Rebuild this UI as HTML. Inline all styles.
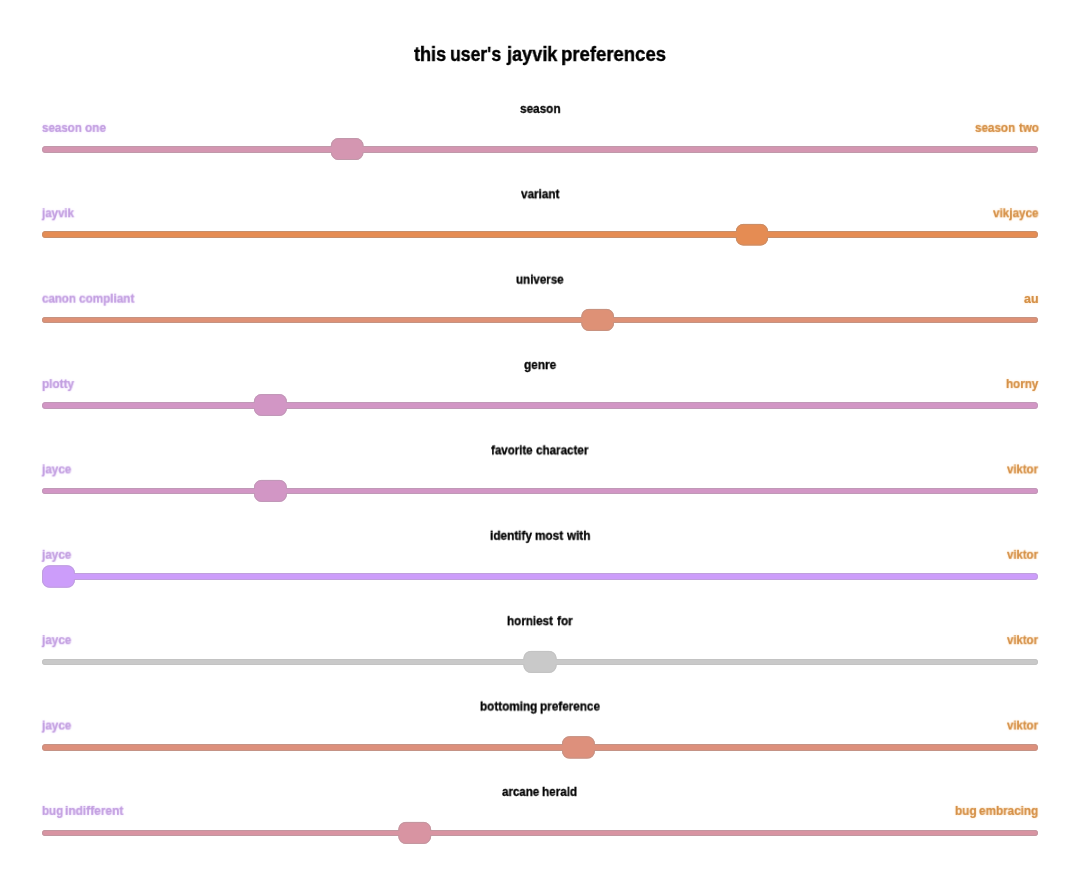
<!DOCTYPE html>
<html><head><meta charset="utf-8"><title>jayvik preferences</title>
<style>
html,body{margin:0;padding:0;background:#fff;}
body{width:1080px;height:889px;position:relative;overflow:hidden;font-family:"Liberation Sans",sans-serif;font-weight:bold;color:#000;}
svg{position:absolute;left:0;top:0;}
span{position:absolute;display:block;white-space:nowrap;left:0;top:0;transform-origin:0 50%;}
.w{will-change:transform;}
.h1{font-size:20.5px;line-height:22px;-webkit-text-stroke:0.4px #000;}
.t{font-size:12.4px;line-height:14px;-webkit-text-stroke:0.3px #000;}
.l{font-size:12.4px;line-height:14px;color:#c3a0e0;-webkit-text-stroke:0.2px #c3a0e0;text-shadow:0 0 2px rgba(214,170,255,0.55);}
.r{font-size:12.4px;line-height:14px;color:#d49048;-webkit-text-stroke:0.2px #d49048;text-shadow:0 0 2px rgba(255,180,90,0.55);}
</style></head><body>

<svg width="1080" height="889" viewBox="0 0 1080 889">
<rect x="42" y="146" width="996" height="7" rx="3.5" fill="#d496b1"/>
<rect x="42.5" y="146.5" width="995" height="6" rx="3.0" fill="none" stroke="#c099aa" stroke-width="1"/>
<rect x="330.90" y="138.10" width="32.60" height="21.90" rx="7.5" fill="#d496b1"/>
<rect x="331.40" y="138.60" width="31.60" height="20.90" rx="7" fill="none" stroke="#c099aa" stroke-width="1"/>
<rect x="329.90" y="147" width="34.60" height="5" fill="#d496b1"/>
<rect x="42" y="231" width="996" height="7" rx="3.5" fill="#e58c53"/>
<rect x="42.5" y="231.5" width="995" height="6" rx="3.0" fill="none" stroke="#c78e6a" stroke-width="1"/>
<rect x="735.80" y="223.90" width="32.30" height="21.60" rx="7.5" fill="#e58c53"/>
<rect x="736.30" y="224.40" width="31.30" height="20.60" rx="7" fill="none" stroke="#c78e6a" stroke-width="1"/>
<rect x="734.80" y="232" width="34.30" height="5" fill="#e58c53"/>
<rect x="42" y="317" width="996" height="6" rx="3.0" fill="#de9176"/>
<rect x="42.5" y="317.5" width="995" height="5" rx="2.5" fill="none" stroke="#c59382" stroke-width="1"/>
<rect x="581.30" y="308.90" width="32.70" height="22.00" rx="7.5" fill="#de9176"/>
<rect x="581.80" y="309.40" width="31.70" height="21.00" rx="7" fill="none" stroke="#c59382" stroke-width="1"/>
<rect x="580.30" y="318" width="34.70" height="4" fill="#de9176"/>
<rect x="42" y="402" width="996" height="7" rx="3.5" fill="#d296c5"/>
<rect x="42.5" y="402.5" width="995" height="6" rx="3.0" fill="none" stroke="#c099b7" stroke-width="1"/>
<rect x="253.90" y="394.10" width="33.00" height="21.80" rx="7.5" fill="#d296c5"/>
<rect x="254.40" y="394.60" width="32.00" height="20.80" rx="7" fill="none" stroke="#c099b7" stroke-width="1"/>
<rect x="252.90" y="403" width="35.00" height="5" fill="#d296c5"/>
<rect x="42" y="488" width="996" height="6" rx="3.0" fill="#d296c5"/>
<rect x="42.5" y="488.5" width="995" height="5" rx="2.5" fill="none" stroke="#c099b7" stroke-width="1"/>
<rect x="254.00" y="479.90" width="32.90" height="22.00" rx="7.5" fill="#d296c5"/>
<rect x="254.50" y="480.40" width="31.90" height="21.00" rx="7" fill="none" stroke="#c099b7" stroke-width="1"/>
<rect x="253.00" y="489" width="34.90" height="4" fill="#d296c5"/>
<rect x="42" y="573" width="996" height="7" rx="3.5" fill="#cc9dfa"/>
<rect x="42.5" y="573.5" width="995" height="6" rx="3.0" fill="none" stroke="#bfa0dc" stroke-width="1"/>
<rect x="42.00" y="565.30" width="32.90" height="22.40" rx="7.5" fill="#cc9dfa"/>
<rect x="42.50" y="565.80" width="31.90" height="21.40" rx="7" fill="none" stroke="#bfa0dc" stroke-width="1"/>
<rect x="45.50" y="574" width="30.40" height="5" fill="#cc9dfa"/>
<rect x="42" y="659" width="996" height="6" rx="3.0" fill="#c9c9c9"/>
<rect x="42.5" y="659.5" width="995" height="5" rx="2.5" fill="none" stroke="#c3c3c3" stroke-width="1"/>
<rect x="523.40" y="650.90" width="33.20" height="22.00" rx="7.5" fill="#c9c9c9"/>
<rect x="523.90" y="651.40" width="32.20" height="21.00" rx="7" fill="none" stroke="#c3c3c3" stroke-width="1"/>
<rect x="522.40" y="660" width="35.20" height="4" fill="#c9c9c9"/>
<rect x="42" y="744" width="996" height="7" rx="3.5" fill="#dd907c"/>
<rect x="42.5" y="744.5" width="995" height="6" rx="3.0" fill="none" stroke="#c49386" stroke-width="1"/>
<rect x="562.00" y="736.20" width="32.90" height="22.40" rx="7.5" fill="#dd907c"/>
<rect x="562.50" y="736.70" width="31.90" height="21.40" rx="7" fill="none" stroke="#c49386" stroke-width="1"/>
<rect x="561.00" y="745" width="34.90" height="5" fill="#dd907c"/>
<rect x="42" y="830" width="996" height="6" rx="3.0" fill="#d894a2"/>
<rect x="42.5" y="830.5" width="995" height="5" rx="2.5" fill="none" stroke="#c297a0" stroke-width="1"/>
<rect x="398.30" y="821.90" width="32.80" height="22.00" rx="7.5" fill="#d894a2"/>
<rect x="398.80" y="822.40" width="31.80" height="21.00" rx="7" fill="none" stroke="#c297a0" stroke-width="1"/>
<rect x="397.30" y="831" width="34.80" height="4" fill="#d894a2"/>
</svg>
<span class="w" style="left:414.22px;top:43px;transform:translate(0px,0.00px)"><span class="h1" style="transform:scaleX(0.8823)">this</span></span>
<span class="w" style="left:450.19px;top:43px;transform:translate(0px,0.00px)"><span class="h1" style="transform:scaleX(0.8582)">user's</span></span>
<span class="w" style="left:506.52px;top:43px;transform:translate(0px,0.00px)"><span class="h1" style="transform:scaleX(0.8840)">jayvik</span></span>
<span class="w" style="left:561.30px;top:43px;transform:translate(0px,0.00px)"><span class="h1" style="transform:scaleX(0.9037)">preferences</span></span>
<span class="w" style="left:519.89px;top:101px;transform:translate(0px,0.90px)"><span class="t" style="transform:scaleX(0.9485)">season</span></span>
<span class="w" style="left:41.90px;top:120px;transform:translate(0px,0.90px)"><span class="l" style="transform:scaleX(0.9316)">season</span></span>
<span class="w" style="left:84.53px;top:120px;transform:translate(0px,0.90px)"><span class="l" style="transform:scaleX(0.9507)">one</span></span>
<span class="w" style="left:974.89px;top:120px;transform:translate(0px,0.90px)"><span class="r" style="transform:scaleX(0.9389)">season</span></span>
<span class="w" style="left:1018.58px;top:120px;transform:translate(0px,0.90px)"><span class="r" style="transform:scaleX(0.9292)">two</span></span>
<span class="w" style="left:520.84px;top:187px;transform:translate(0px,0.28px)"><span class="t" style="transform:scaleX(0.9450)">variant</span></span>
<span class="w" style="left:41.77px;top:206px;transform:translate(0px,0.28px)"><span class="l" style="transform:scaleX(0.9291)">jayvik</span></span>
<span class="w" style="left:992.94px;top:206px;transform:translate(0px,0.28px)"><span class="r" style="transform:scaleX(0.9435)">vikjayce</span></span>
<span class="w" style="left:516.00px;top:272px;transform:translate(0px,0.65px)"><span class="t" style="transform:scaleX(0.9348)">universe</span></span>
<span class="w" style="left:41.74px;top:291px;transform:translate(0px,0.65px)"><span class="l" style="transform:scaleX(0.9269)">canon</span></span>
<span class="w" style="left:78.63px;top:291px;transform:translate(0px,0.65px)"><span class="l" style="transform:scaleX(0.9446)">compliant</span></span>
<span class="w" style="left:1024.33px;top:291px;transform:translate(0px,0.65px)"><span class="r" style="transform:scaleX(1.0024)">au</span></span>
<span class="w" style="left:523.93px;top:358px;transform:translate(0px,0.02px)"><span class="t" style="transform:scaleX(0.9556)">genre</span></span>
<span class="w" style="left:41.63px;top:377px;transform:translate(0px,0.02px)"><span class="l" style="transform:scaleX(0.9495)">plotty</span></span>
<span class="w" style="left:1005.89px;top:377px;transform:translate(0px,0.02px)"><span class="r" style="transform:scaleX(0.9379)">horny</span></span>
<span class="w" style="left:490.93px;top:443px;transform:translate(0px,0.40px)"><span class="t" style="transform:scaleX(0.9297)">favorite</span></span>
<span class="w" style="left:536.43px;top:443px;transform:translate(0px,0.40px)"><span class="t" style="transform:scaleX(0.9387)">character</span></span>
<span class="w" style="left:41.78px;top:462px;transform:translate(0px,0.40px)"><span class="l" style="transform:scaleX(0.9476)">jayce</span></span>
<span class="w" style="left:1006.94px;top:462px;transform:translate(0px,0.40px)"><span class="r" style="transform:scaleX(0.9183)">viktor</span></span>
<span class="w" style="left:489.77px;top:528px;transform:translate(0px,0.77px)"><span class="t" style="transform:scaleX(0.9524)">identify</span></span>
<span class="w" style="left:534.83px;top:528px;transform:translate(0px,0.77px)"><span class="t" style="transform:scaleX(0.9496)">most</span></span>
<span class="w" style="left:566.70px;top:528px;transform:translate(0px,0.77px)"><span class="t" style="transform:scaleX(0.9436)">with</span></span>
<span class="w" style="left:41.78px;top:547px;transform:translate(0px,0.77px)"><span class="l" style="transform:scaleX(0.9476)">jayce</span></span>
<span class="w" style="left:1006.94px;top:547px;transform:translate(0px,0.77px)"><span class="r" style="transform:scaleX(0.9183)">viktor</span></span>
<span class="w" style="left:506.98px;top:614px;transform:translate(0px,0.15px)"><span class="t" style="transform:scaleX(0.9402)">horniest</span></span>
<span class="w" style="left:556.52px;top:614px;transform:translate(0px,0.15px)"><span class="t" style="transform:scaleX(0.9455)">for</span></span>
<span class="w" style="left:41.78px;top:633px;transform:translate(0px,0.15px)"><span class="l" style="transform:scaleX(0.9476)">jayce</span></span>
<span class="w" style="left:1006.94px;top:633px;transform:translate(0px,0.15px)"><span class="r" style="transform:scaleX(0.9183)">viktor</span></span>
<span class="w" style="left:479.64px;top:699px;transform:translate(0px,0.52px)"><span class="t" style="transform:scaleX(0.9447)">bottoming</span></span>
<span class="w" style="left:539.94px;top:699px;transform:translate(0px,0.52px)"><span class="t" style="transform:scaleX(0.9472)">preference</span></span>
<span class="w" style="left:41.78px;top:718px;transform:translate(0px,0.52px)"><span class="l" style="transform:scaleX(0.9476)">jayce</span></span>
<span class="w" style="left:1006.94px;top:718px;transform:translate(0px,0.52px)"><span class="r" style="transform:scaleX(0.9183)">viktor</span></span>
<span class="w" style="left:502.25px;top:784px;transform:translate(0px,0.90px)"><span class="t" style="transform:scaleX(0.9315)">arcane</span></span>
<span class="w" style="left:542.48px;top:784px;transform:translate(0px,0.90px)"><span class="t" style="transform:scaleX(0.9458)">herald</span></span>
<span class="w" style="left:41.55px;top:803px;transform:translate(0px,0.90px)"><span class="l" style="transform:scaleX(0.9298)">bug</span></span>
<span class="w" style="left:65.47px;top:803px;transform:translate(0px,0.90px)"><span class="l" style="transform:scaleX(0.9617)">indifferent</span></span>
<span class="w" style="left:954.84px;top:803px;transform:translate(0px,0.90px)"><span class="r" style="transform:scaleX(0.9488)">bug</span></span>
<span class="w" style="left:978.93px;top:803px;transform:translate(0px,0.90px)"><span class="r" style="transform:scaleX(0.9449)">embracing</span></span>
</body></html>
